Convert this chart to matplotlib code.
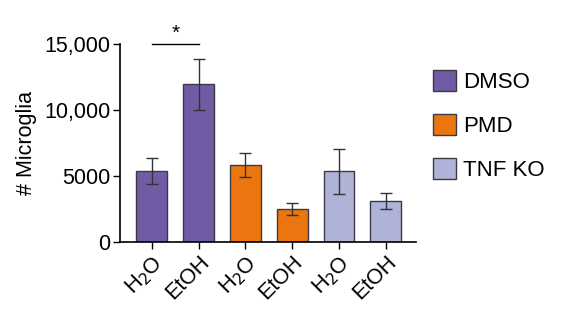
import matplotlib.pyplot as plt
from matplotlib.patches import Patch

plt.rcParams['font.family'] = ['Liberation Sans', 'DejaVu Sans']

labels = ["H$_2$O", "EtOH", "H$_2$O", "EtOH", "H$_2$O", "EtOH"]
groups = ["DMSO", "PMD", "TNF KO"]
means = [5380, 11970, 5860, 2500, 5350, 3110]
errors = [980, 1930, 910, 430, 1690, 640]
group_colors = ["#715BA5", "#EB760F", "#B0B3D8"]


def main() -> None:
    fig = plt.figure(figsize=(5.7, 3.32), dpi=100)
    ax = fig.add_axes([0.2105, 0.271, 0.519, 0.596])

    x = list(range(len(means)))
    colors = [group_colors[i // 2] for i in x]
    ax.bar(x, means, width=0.66, color=colors, edgecolor="#3a3a48",
           linewidth=1.0, zorder=2)
    ax.errorbar(x, means, yerr=errors, fmt="none", ecolor="#333333",
                elinewidth=1.0, capsize=4, capthick=1.0, zorder=3)

    ax.set_xlim(-0.68, 5.64)
    ax.set_ylim(0, 15000)
    ax.set_yticks([0, 5000, 10000, 15000])
    ax.set_yticklabels(["0", "5000", "10,000", "15,000"])
    ax.set_xticks(x)
    ax.set_xticklabels(labels, rotation=45, ha="right", va="top",
                       rotation_mode="anchor")
    ax.tick_params(axis="y", labelsize=15.5, length=5, width=1, pad=2)
    ax.tick_params(axis="x", labelsize=15.5, length=5, width=1, pad=2)
    ax.set_ylabel("# Microglia", fontsize=15.5, labelpad=5)

    for side in ["top", "right"]:
        ax.spines[side].set_visible(False)
    ax.spines["left"].set_linewidth(1.2)
    ax.spines["bottom"].set_linewidth(1.2)

    # significance bracket
    ax.plot([0, 1], [15000, 15000], color="black", lw=1.0, clip_on=False)
    ax.text(0.5, 15100, "*", ha="center", va="bottom", fontsize=15)

    handles = [Patch(facecolor=c, edgecolor="#3a3a48", label=g)
               for g, c in zip(groups, group_colors)]
    fig.legend(handles=handles, loc="upper left",
               bbox_to_anchor=(0.7596, 0.788), frameon=False, fontsize=16,
               handlelength=1.05, handleheight=1.05, labelspacing=0.95,
               handletextpad=0.32, borderpad=0, borderaxespad=0)

    fig.savefig("out.png", dpi=100)


if __name__ == "__main__":
    main()
